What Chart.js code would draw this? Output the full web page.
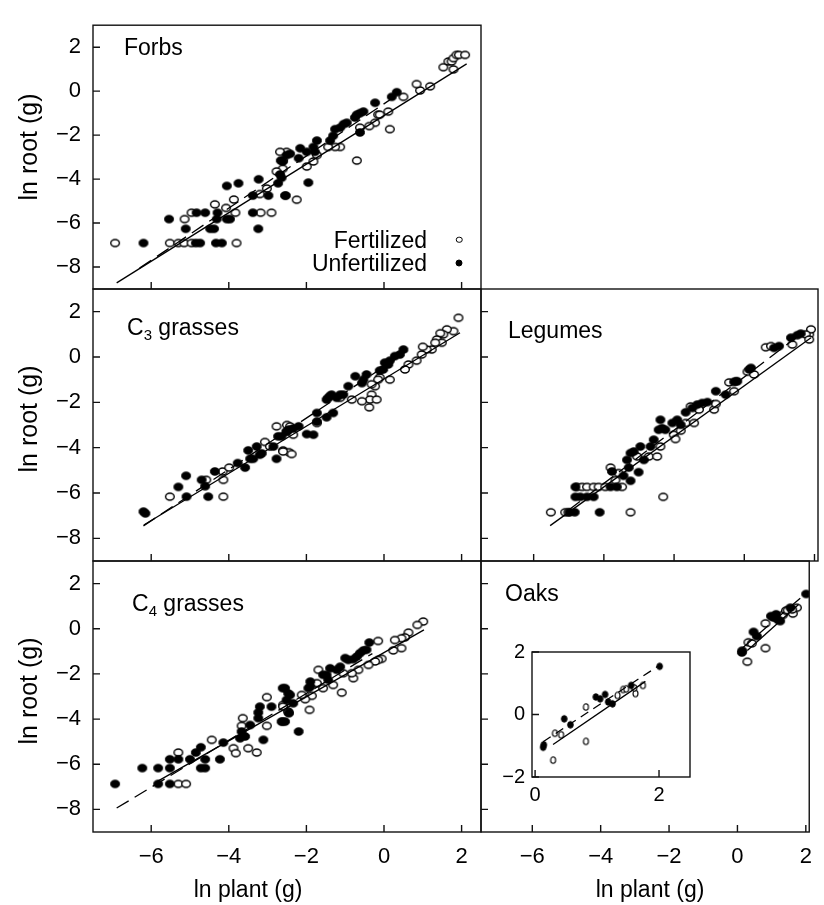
<!DOCTYPE html>
<html><head><meta charset="utf-8">
<script src="https://cdn.jsdelivr.net/npm/chart.js@4.4.1/dist/chart.umd.min.js"></script>
<style>
html,body{margin:0;padding:0;background:#fff;}
#wrap{position:relative;width:824px;height:905px;overflow:hidden;font-family:"Liberation Sans",Arial,Helvetica,sans-serif;color:#000;}
#wrap canvas{position:absolute;left:0;top:0;}
.t{position:absolute;font-size:23px;line-height:23px;white-space:nowrap;transform:translateY(-50%);}
.c{transform:translate(-50%,-50%);}
.r{transform:translate(-50%,-50%) rotate(-90deg);font-size:25px;line-height:25px;}
.rt{transform:translateY(-50%);text-align:right;}
.t sub{font-size:15px;vertical-align:-5px;line-height:0;}
.mk{position:absolute;border-radius:50%;box-sizing:border-box;transform:translate(-50%,-50%);}
</style></head><body><div id="wrap"></div>
<script>
// ---------- data ----------
const X_TICKS = [-6, -4, -2, 0, 2];
const Y_TICKS = [-8, -6, -4, -2, 0, 2];
const INSET_X_TICKS = [0, 2];
const INSET_Y_TICKS = [-2, 0, 2];

const FORBS_FERT = [[-6.93,-6.91],[-5.52,-6.91],[-5.3,-6.91],[-5.15,-6.91],[-4.96,-6.91],[-3.8,-6.91],
[-5.14,-5.82],[-4.96,-5.53],[-4.36,-5.15],[-4.07,-5.31],[-3.87,-4.93],[-3.83,-5.53],[-3.18,-5.53],[-2.9,-5.53],[-3.02,-4.43],[-3.2,-4.68],[-2.61,-3.53],[-2.51,-2.76],[-2.77,-3.65],
[1.53,1.09],[1.66,1.35],[1.74,1.35],[1.79,1.5],[1.87,1.65],[1.93,1.65],[2.09,1.65],[1.79,0.99],
[1.19,0.22],[0.93,0.03],[0.84,0.32],[0.5,-0.26],[0.11,-0.93],[0.15,-1.73],[-0.15,-1.07],[-0.11,-1.07],[-0.23,-1.44],[-0.38,-1.59],[-0.62,-1.66],[-0.7,-3.16],[-1.13,-2.54],[-1.26,-2.54],[-1.44,-2.54],[-1.73,-2.91],[-1.82,-3.2],[-1.99,-3.43],[-2.68,-2.76],[-2.6,-3.16],[-2.25,-4.94]];
const FORBS_UNFERT = [[-6.2,-6.91],[-4.85,-6.91],[-4.74,-6.91],[-4.33,-6.91],[-4.18,-6.91],[-5.54,-5.82],[-5.11,-6.26],[-4.83,-5.53],[-4.61,-5.53],[-4.48,-6.26],[-4.38,-6.26],[-4.29,-5.53],[-4.31,-5.82],[-4.05,-5.82],[-3.97,-5.82],[-4.05,-4.31],[-3.75,-4.19],[-3.38,-5.53],[-3.24,-6.26],[-3.23,-4.01],[-3.38,-4.75],[-2.98,-4.75],[-2.73,-4.19],[-2.64,-3.94],[-2.53,-4.75],[-2.61,-3.2],[-2.51,-2.91],
[-0.23,-0.53],[0.2,-0.26],[0.33,-0.05],[-0.7,-1.07],[-0.62,-1.0],[-0.53,-0.93],[-0.75,-1.2],[-0.62,-1.88],[-0.96,-1.44],[-1.04,-1.5],[-1.13,-1.66],[-1.26,-1.73],[-1.31,-2.03],[-1.39,-2.25],[-1.73,-2.25],[-1.82,-2.54],[-1.78,-2.76],[-2.16,-2.6],[-1.99,-2.76],[-2.2,-3.05],[-2.42,-2.85],[-2.66,-3.16],[-2.68,-3.79],[-1.95,-4.16],[-2.55,-4.75]];

const C3_FERT = [[-5.52,-6.16],[-4.58,-5.42],[-4.16,-5.05],[-4.14,-5.42],[-4.14,-6.16],[-3.99,-4.88],[-3.07,-3.75],[-2.94,-3.95],[-2.77,-3.06],[-2.6,-4.12],[-2.45,-4.2],[-2.5,-3.0],
[1.92,1.73],[1.79,1.14],[1.62,1.22],[1.53,1.0],[1.45,1.05],[1.36,0.77],[1.49,0.63],[1.32,0.63],[1.23,0.33],[1.1,0.33],[0.97,0.11],[1.0,0.45],[0.84,-0.16],[0.63,-0.33],[0.54,-0.55],[0.15,-1.0],[-0.11,-0.9],[-0.15,-1.0],[-0.23,-1.29],[-0.32,-1.2],[-0.32,-1.66],[-0.36,-1.88],[-0.19,-1.88],[-0.38,-2.22],[-0.57,-1.95],[-0.83,-1.88],[-1.13,-1.8],[-1.73,-2.91],[-2.34,-3.43],[-2.42,-3.06],[-2.6,-4.17],[-2.38,-4.28]];
const C3_UNFERT = [[-6.2,-6.82],[-6.15,-6.9],[-5.1,-5.24],[-5.3,-5.73],[-5.09,-6.16],[-4.7,-5.42],[-4.61,-5.7],[-4.53,-6.16],[-4.36,-5.05],[-3.77,-4.68],[-3.58,-4.88],[-3.5,-4.12],[-3.45,-4.49],[-3.37,-4.49],[-3.28,-3.95],[-3.2,-4.31],[-3.15,-4.25],[-2.85,-3.95],[-2.77,-4.49],[-2.73,-3.5],[-2.51,-3.3],[-2.45,-3.2],
[0.5,0.33],[0.41,0.11],[0.28,0.04],[0.15,-0.16],[0.11,-0.33],[0.02,-0.25],[-0.02,-0.55],[-0.11,-0.6],[-0.45,-0.77],[-0.53,-1.0],[-0.57,-1.15],[-0.74,-0.85],[-0.92,-1.29],[-1.05,-1.66],[-1.13,-1.66],[-1.22,-1.8],[-1.35,-1.66],[-1.44,-1.8],[-1.39,-1.72],[-1.48,-1.88],[-1.31,-2.47],[-1.48,-2.66],[-1.73,-2.47],[-1.73,-2.85],[-1.82,-3.43],[-1.99,-3.4],[-2.2,-3.06],[-2.34,-3.15],[-2.51,-3.28],[-2.64,-3.5]];

const LEG_FERT = [[-5.51,-6.85],[-5.1,-6.85],[-5.01,-6.85],[-3.24,-6.85],[-2.31,-6.17],[-4.77,-5.73],[-4.62,-5.73],[-4.48,-5.73],[-4.29,-5.73],[-4.15,-5.73],[-3.96,-5.73],[-3.48,-5.73],[-3.67,-5.43],[-3.81,-4.88],[-3.58,-5.12],[-3.05,-4.39],[-2.72,-4.39],[-2.48,-4.39],[-2.39,-3.95],[-2.01,-3.43],[-1.96,-3.62],[-1.81,-3.25],[-1.67,-2.91],[-1.43,-2.91],[-1.53,-2.18],[-1.29,-2.32],[-0.86,-2.32],[-0.81,-2.07],[-0.43,-1.12],[-0.29,-1.51],[-0.24,-1.07],[0.09,-0.65],[0.28,-0.77],[0.61,0.43],[0.76,0.48],[1.37,0.55],[1.85,1.0],[1.9,1.22],[1.75,1.0],[1.85,0.77]];
const LEG_UNFERT = [[-4.98,-6.85],[-4.83,-6.85],[-4.12,-6.85],[-4.81,-6.17],[-4.67,-6.17],[-4.48,-6.17],[-4.29,-6.17],[-4.81,-5.73],[-3.81,-5.73],[-3.63,-5.73],[-3.77,-5.05],[-3.44,-5.24],[-3.24,-5.46],[-3.01,-5.08],[-3.29,-4.88],[-3.34,-4.54],[-3.24,-4.24],[-3.15,-4.17],[-2.96,-3.95],[-2.86,-4.54],[-2.67,-3.95],[-2.58,-3.65],[-2.44,-3.21],[-2.39,-2.77],[-2.34,-3.14],[-2.25,-3.21],[-2.05,-2.91],[-1.91,-2.77],[-1.81,-2.99],[-1.67,-2.44],[-1.48,-2.25],[-1.34,-2.1],[-1.2,-2.03],[-1.05,-1.99],[-0.81,-1.51],[-0.53,-1.66],[-0.29,-1.1],[-0.2,-1.07],[0.14,-0.55],[0.19,-0.48],[0.85,0.4],[0.99,0.48],[1.33,0.85],[1.51,0.96],[1.61,1.03]];

const C4_FERT = [[-5.3,-5.48],[-5.3,-6.87],[-5.1,-6.87],[-4.44,-4.92],[-3.88,-5.29],[-3.82,-5.51],[-3.5,-5.29],[-3.28,-5.48],[-3.67,-4.3],[-3.64,-3.96],[-3.02,-3.03],[-3.02,-4.3],[-2.6,-3.37],[-2.47,-3.66],
[1.01,0.32],[0.86,0.17],[0.63,-0.17],[0.54,-0.38],[0.45,-0.42],[0.28,-0.5],[0.45,-0.86],[0.24,-0.96],[-0.15,-0.54],[-0.06,-1.33],[-0.15,-1.38],[-0.23,-1.45],[-0.4,-1.6],[-0.66,-1.82],[-0.79,-2.19],[-0.83,-1.97],[-1.05,-1.97],[-1.31,-2.49],[-1.57,-2.63],[-1.73,-2.41],[-1.69,-1.82],[-1.09,-2.83],[-1.86,-2.97],[-2.03,-3.12],[-1.92,-3.59],[-2.46,-3.71],[-2.6,-3.45],[-2.12,-2.93]];
const C4_UNFERT = [[-6.93,-6.87],[-6.23,-6.17],[-5.82,-6.17],[-5.82,-6.87],[-5.52,-6.17],[-5.52,-5.78],[-5.52,-6.87],[-5.3,-5.78],[-5.0,-5.78],[-4.85,-5.48],[-4.72,-5.25],[-4.72,-6.17],[-4.61,-6.17],[-4.61,-5.78],[-4.23,-5.78],[-4.14,-5.04],[-3.71,-4.85],[-3.67,-4.55],[-3.58,-4.77],[-3.45,-4.26],[-3.24,-3.96],[-3.11,-4.92],[-3.24,-3.71],[-3.2,-3.45],[-2.9,-3.45],[-2.61,-2.63],[-2.61,-4.11],[-2.47,-2.86],[-2.45,-3.74],
[-0.38,-0.61],[-0.45,-0.93],[-0.53,-0.96],[-0.62,-1.08],[-0.7,-1.23],[-0.79,-1.35],[-0.92,-1.38],[-1.0,-1.3],[-1.13,-1.68],[-1.22,-1.82],[-1.39,-1.75],[-1.48,-2.04],[-1.57,-2.04],[-1.44,-2.26],[-1.9,-2.34],[-1.95,-2.63],[-1.9,-2.56],[-2.42,-2.93],[-2.55,-2.63],[-2.34,-3.3],[-2.51,-3.15],[-2.55,-4.11],[-2.64,-4.11],[-2.2,-4.55]];

const OAK_FERT = [[0.32,-0.6],[0.42,-0.65],[0.29,-1.46],[0.82,0.24],[0.82,-0.86],[1.33,0.61],[1.42,0.8],[1.47,0.82],[1.62,0.67],[1.74,0.93],[1.6,0.85]];
const OAK_UNFERT = [[0.13,-1.05],[0.14,-0.97],[0.47,-0.14],[0.57,-0.33],[0.98,0.56],[1.05,0.5],[1.13,0.64],[1.18,0.4],[1.25,0.34],[1.55,0.93],[2.01,1.54]];

// fitted regressions (solid = fertilized, dashed = unfertilized), end points
const FORBS_FIT_FERT = [[-6.89,-8.72],[2.13,1.24]];
const FORBS_FIT_UNFERT = [[-6.3,-8.05],[0.4,-0.1]];
const C3_FIT_FERT = [[-6.19,-7.41],[1.96,1.07]];
const C3_FIT_UNFERT = [[-6.2,-7.45],[0.6,0.25]];
const LEG_FIT_FERT = [[-5.53,-7.44],[1.9,0.85]];
const LEG_FIT_UNFERT = [[-5.0,-6.75],[1.6,1.0]];
const C4_FIT_FERT = [[-5.85,-6.77],[1.03,-0.05]];
const C4_FIT_UNFERT = [[-6.89,-7.94],[-0.3,-1.1]];
const OAK_FIT_FERT = [[0.29,-0.96],[1.78,1.06]];
const OAK_FIT_UNFERT = [[0.13,-0.87],[2.01,1.58]];

// ---------- drawing ----------
const W = 824, H = 905;
const FONT = '"Liberation Sans", Arial, Helvetica, sans-serif';
const wrap = document.getElementById('wrap');
const toXY = a => a.map(p => ({x: p[0], y: p[1]}));
const fmt = v => v < 0 ? '\u2212' + Math.abs(v) : String(v);

function marker(rx, ry, filled, lw) {
  const w = Math.ceil(2 * rx + lw + 2), h = Math.ceil(2 * ry + lw + 2);
  const c = document.createElement('canvas'); c.width = w; c.height = h;
  const g = c.getContext('2d');
  g.beginPath(); g.ellipse(w / 2, h / 2, rx, ry, 0, 0, Math.PI * 2);
  g.fillStyle = filled ? '#000' : '#fff'; g.fill();
  g.lineWidth = lw; g.strokeStyle = '#000'; g.stroke();
  return c;
}
const MK_OPEN = marker(4.3, 3.5, false, 1.4);
const MK_FILL = marker(4.4, 3.7, true, 1.0);
const MK_OPEN_S = marker(2.5, 3.2, false, 1.1);
const MK_FILL_S = marker(2.8, 3.3, true, 1.0);

const framePlugin = {
  id: 'frame',
  afterDatasetsDraw(chart, args, opts) {
    const {ctx, chartArea: a, scales} = chart;
    ctx.save();
    ctx.strokeStyle = '#111'; ctx.lineWidth = 1.4;
    ctx.strokeRect(a.left, a.top, a.right - a.left, a.bottom - a.top);
    const tl = opts.tick || 7;
    ctx.beginPath();
    scales.x.ticks.forEach(t => { const p = scales.x.getPixelForValue(t.value); ctx.moveTo(p, a.bottom); ctx.lineTo(p, a.bottom - tl); });
    scales.y.ticks.forEach(t => { const p = scales.y.getPixelForValue(t.value); ctx.moveTo(a.left, p); ctx.lineTo(a.left + tl, p); });
    ctx.stroke(); ctx.restore();
  }
};

function panel(cfg) {
  const cv = document.createElement('canvas'); cv.width = W; cv.height = H; wrap.appendChild(cv);
  const small = !!cfg.small;
  const datasets = [
    {data: toXY(cfg.fert), pointStyle: small ? MK_OPEN_S : MK_OPEN, pointRadius: 4, order: 3},
    {data: toXY(cfg.unfert), pointStyle: small ? MK_FILL_S : MK_FILL, pointRadius: 4, order: 2},
    {data: toXY(cfg.fitF), showLine: true, borderColor: '#000', borderWidth: 1.3, pointRadius: 0, order: 1},
    {data: toXY(cfg.fitU), showLine: true, borderColor: '#000', borderWidth: 1.3, borderDash: small ? [9, 6] : [14, 7], pointRadius: 0, order: 0}
  ];
  const r = cfg.rect;
  new Chart(cv, {
    type: 'scatter',
    data: {datasets},
    options: {
      responsive: false, animation: false, devicePixelRatio: 1, events: [],
      layout: {padding: {left: r.l - cfg.yw, top: r.t, right: W - r.r, bottom: H - r.b - cfg.xh}},
      plugins: {legend: {display: false}, tooltip: {enabled: false}, frame: {tick: cfg.tick || 7}},
      scales: {
        x: {
          type: 'linear', position: 'bottom', min: cfg.x[0], max: cfg.x[1],
          afterBuildTicks: s => { s.ticks = cfg.xTicks.map(v => ({value: v})); },
          afterFit: s => { s.height = cfg.xh; },
          grid: {display: false, drawTicks: false}, border: {display: false},
          ticks: {display: cfg.xLabels, padding: cfg.xPad, color: '#000', font: {family: FONT, size: cfg.fs}, callback: v => fmt(v), maxRotation: 0, autoSkip: false}
        },
        y: {
          type: 'linear', position: 'left', min: cfg.y[0], max: cfg.y[1],
          afterBuildTicks: s => { s.ticks = cfg.yTicks.map(v => ({value: v})); },
          afterFit: s => { s.width = cfg.yw; },
          grid: {display: false, drawTicks: false}, border: {display: false},
          ticks: {display: cfg.yLabels, padding: cfg.yPad, color: '#000', font: {family: FONT, size: cfg.fs}, callback: v => fmt(v), autoSkip: false}
        }
      }
    },
    plugins: [framePlugin]
  });
}

const LEFT_X = [-7.5, 2.5], RIGHT_X = [-7.5, 2.1], Y_RANGE = [-9, 3];
const base = {xTicks: X_TICKS, yTicks: Y_TICKS, y: Y_RANGE, fs: 22, xh: 60, xPad: 12, yPad: 12};

panel(Object.assign({}, base, {rect: {l: 93, r: 481, t: 16, b: 289}, x: LEFT_X, yw: 93, xLabels: false, yLabels: true,
  fert: FORBS_FERT, unfert: FORBS_UNFERT, fitF: FORBS_FIT_FERT, fitU: FORBS_FIT_UNFERT}));
panel(Object.assign({}, base, {rect: {l: 93, r: 481, t: 289, b: 561}, x: LEFT_X, yw: 93, xLabels: false, yLabels: true,
  fert: C3_FERT, unfert: C3_UNFERT, fitF: C3_FIT_FERT, fitU: C3_FIT_UNFERT}));
panel(Object.assign({}, base, {rect: {l: 481, r: 818, t: 289, b: 561}, x: RIGHT_X, yw: 20, xLabels: false, yLabels: false,
  fert: LEG_FERT, unfert: LEG_UNFERT, fitF: LEG_FIT_FERT, fitU: LEG_FIT_UNFERT}));
panel(Object.assign({}, base, {rect: {l: 93, r: 481, t: 561, b: 832}, x: LEFT_X, yw: 93, xLabels: true, yLabels: true,
  fert: C4_FERT, unfert: C4_UNFERT, fitF: C4_FIT_FERT, fitU: C4_FIT_UNFERT}));
panel(Object.assign({}, base, {rect: {l: 481, r: 818, t: 561, b: 832}, x: RIGHT_X, yw: 20, xLabels: true, yLabels: false,
  fert: OAK_FERT, unfert: OAK_UNFERT, fitF: OAK_FIT_FERT, fitU: OAK_FIT_UNFERT}));
// inset of the oak panel
panel({rect: {l: 532, r: 690, t: 652, b: 777}, x: [-0.05, 2.5], y: [-2, 2], xTicks: INSET_X_TICKS, yTicks: INSET_Y_TICKS,
  fs: 20, xh: 40, xPad: 6, yw: 42, yPad: 7, xLabels: true, yLabels: true, small: true, tick: 7,
  fert: OAK_FERT, unfert: OAK_UNFERT, fitF: OAK_FIT_FERT, fitU: OAK_FIT_UNFERT});

// ---------- text ----------
function txt(html, x, y, cls) {
  const d = document.createElement('div'); d.className = 't ' + (cls || '');
  d.innerHTML = html; d.style.left = x + 'px'; d.style.top = y + 'px'; wrap.appendChild(d); return d;
}
txt('Forbs', 124, 46.7);
txt('C<sub>3</sub> grasses', 127, 327);
txt('Legumes', 508, 330);
txt('C<sub>4</sub> grasses', 132, 603);
txt('Oaks', 505, 593);
['ln root (g)'].forEach(s => { txt(s, 28, 146.5, 'r'); txt(s, 28, 419, 'r'); txt(s, 28, 691, 'r'); });
txt('ln plant (g)', 248, 889, 'c');
txt('ln plant (g)', 650, 889, 'c');
const f1 = txt('Fertilized', 0, 239.5, 'rt'); f1.style.left = 'auto'; f1.style.right = (W - 427) + 'px';
const f2 = txt('Unfertilized', 0, 262.5, 'rt'); f2.style.left = 'auto'; f2.style.right = (W - 427) + 'px';
function mk(x, y, d, filled) {
  const s = document.createElement('div'); s.className = 'mk';
  s.style.left = x + 'px'; s.style.top = y + 'px'; s.style.width = d + 'px'; s.style.height = d + 'px';
  s.style.border = '1.2px solid #000'; s.style.background = filled ? '#000' : '#fff'; wrap.appendChild(s);
}
mk(459, 239.5, 6.5, false);
mk(459, 262.5, 7, true);
</script></body></html>
